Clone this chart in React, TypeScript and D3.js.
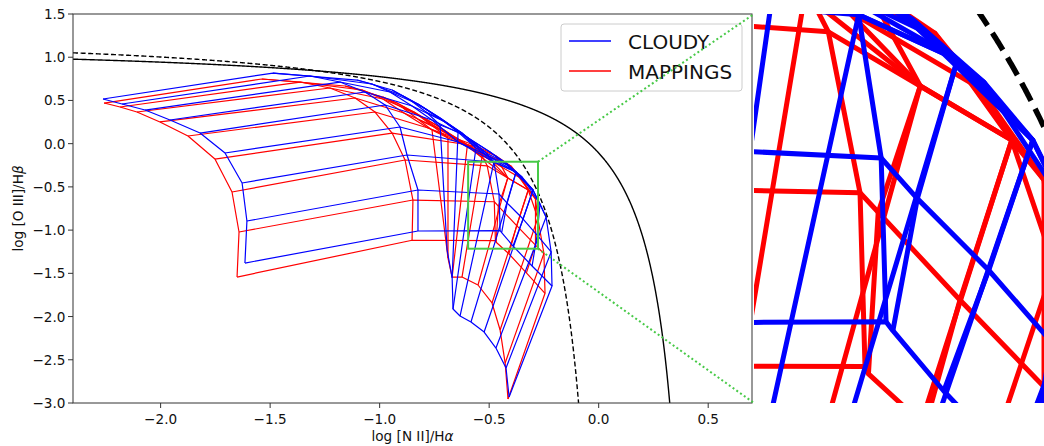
import React from 'react';
import * as d3 from 'd3';

type P = [number, number];

// ---------- data ----------
const xTicks = [-2.0, -1.5, -1.0, -0.5, 0.0, 0.5];
const yTicks = [1.5, 1.0, 0.5, 0.0, -0.5, -1.0, -1.5, -2.0, -2.5, -3.0];
const seriesNames = ['CLOUDY', 'MAPPINGS'];

// rows: ionisation parameter (high -> low), columns: metallicity (low -> high)
const cloudyGrid: P[][] = [
  [[-2.263, 0.517], [-1.487, 0.817], [-1.103, 0.736], [-0.943, 0.621], [-0.861, 0.505], [-0.788, 0.366], [-0.724, 0.216], [-0.692, -1.230]],
  [[-2.176, 0.459], [-1.318, 0.783], [-1.035, 0.690], [-0.893, 0.551], [-0.797, 0.413], [-0.715, 0.274], [-0.642, 0.135], [-0.669, -1.554]],
  [[-2.071, 0.389], [-1.181, 0.713], [-0.953, 0.598], [-0.825, 0.459], [-0.724, 0.297], [-0.624, 0.123], [-0.560, -0.050], [-0.665, -1.913]],
  [[-1.957, 0.274], [-1.067, 0.598], [-0.852, 0.436], [-0.701, 0.251], [-0.596, 0.065], [-0.514, -0.108], [-0.478, -0.212], [-0.633, -1.994]],
  [[-1.820, 0.123], [-0.975, 0.447], [-0.761, 0.274], [-0.610, 0.089], [-0.496, -0.097], [-0.423, -0.224], [-0.377, -0.328], [-0.583, -2.063]],
  [[-1.706, -0.108], [-0.907, 0.193], [-0.642, 0.019], [-0.514, -0.131], [-0.418, -0.247], [-0.350, -0.386], [-0.300, -0.536], [-0.523, -2.179]],
  [[-1.628, -0.455], [-0.875, -0.131], [-0.478, -0.212], [-0.377, -0.328], [-0.300, -0.536], [-0.268, -0.698], [-0.240, -0.848], [-0.469, -2.364]],
  [[-1.606, -0.895], [-0.825, -0.536], [-0.455, -0.582], [-0.418, -0.687], [-0.345, -0.872], [-0.281, -1.057], [-0.217, -1.253], [-0.423, -2.595]],
  [[-1.615, -1.381], [-0.825, -1.010], [-0.450, -1.005], [-0.443, -1.028], [-0.391, -1.184], [-0.304, -1.415], [-0.213, -1.647], [-0.409, -2.931]],
];

const mappingsGrid: P[][] = [
  [[-2.258, 0.470], [-1.537, 0.748], [-1.158, 0.667], [-0.985, 0.540], [-0.893, 0.413], [-0.820, 0.274], [-0.761, 0.158], [-0.701, -1.057]],
  [[-2.185, 0.424], [-1.363, 0.713], [-1.080, 0.621], [-0.921, 0.470], [-0.825, 0.332], [-0.752, 0.193], [-0.688, 0.065], [-0.688, -1.323]],
  [[-2.108, 0.366], [-1.227, 0.644], [-0.985, 0.517], [-0.843, 0.366], [-0.742, 0.216], [-0.660, 0.077], [-0.600, -0.030], [-0.669, -1.543]],
  [[-2.003, 0.251], [-1.112, 0.528], [-0.889, 0.355], [-0.742, 0.193], [-0.642, 0.054], [-0.575, -0.060], [-0.533, -0.160], [-0.624, -1.543]],
  [[-1.875, 0.089], [-1.021, 0.366], [-0.779, 0.181], [-0.642, 0.031], [-0.560, -0.070], [-0.490, -0.200], [-0.415, -0.396], [-0.551, -1.635]],
  [[-1.752, -0.178], [-0.943, 0.123], [-0.555, -0.030], [-0.470, -0.140], [-0.400, -0.260], [-0.355, -0.400], [-0.3215, -0.536], [-0.487, -1.843]],
  [[-1.674, -0.559], [-0.884, -0.189], [-0.509, -0.256], [-0.415, -0.396], [-0.3215, -0.536], [-0.2885, -0.639], [-0.278, -0.860], [-0.450, -2.156]],
  [[-1.642, -1.022], [-0.848, -0.652], [-0.4766, -0.672], [-0.458, -0.722], [-0.3744, -0.949], [-0.2885, -1.173], [-0.250, -1.270], [-0.427, -2.538]],
  [[-1.651, -1.543], [-0.852, -1.117], [-0.4715, -1.121], [-0.468, -1.140], [-0.410, -1.274], [-0.330, -1.495], [-0.245, -1.731], [-0.414, -2.954]],
];

// demarcation curves  y = a / (x - b) + c
const kewley01 = { a: 0.61, b: 0.47, c: 1.19 };
const kauffmann03 = { a: 0.61, b: 0.05, c: 1.3 };

// zoomed region
const zoomX: P = [-0.596, -0.277];
const zoomY: P = [-1.215, -0.209];
const insetXDomain: P = [-0.585, -0.265];
const insetYDomain: P = [-1.215, -0.21];

// ---------- layout ----------
const W = 1044;
const H = 446;
const PL = 73, PR = 752, PT = 14, PB = 403;
const IL = 754, IR = 1067;

const BLUE = '#0000ff';
const RED = '#ff0000';
const GREEN = '#47c947';
const FONT = 'DejaVu Sans, Verdana, sans-serif';

function curve(p: { a: number; b: number; c: number }, x0: number, yMin: number): P[] {
  const xEnd = p.a / (yMin - p.c) + p.b;
  const pts: P[] = d3.range(x0, xEnd, 0.001).map((x) => [x, p.a / (x - p.b) + p.c] as P);
  pts.push([xEnd, yMin]);
  return pts;
}

function gridPaths(grid: P[][], line: d3.Line<P>): string[] {
  const rows = grid.map((r) => line(r) as string);
  const cols = grid[0].map((_, j) => line(grid.map((r) => r[j])) as string);
  return [...rows, ...cols];
}

const fmt = (v: number) => (v < 0 ? '\u2212' : '') + Math.abs(v).toFixed(1);

export default function App() {
  const x = d3.scaleLinear().domain([-2.4, 0.7]).range([PL, PR]);
  const y = d3.scaleLinear().domain([-3, 1.5]).range([PB, PT]);
  const xi = d3.scaleLinear().domain(insetXDomain).range([IL, IR]);
  const yi = d3.scaleLinear().domain(insetYDomain).range([PB, PT]);

  const line = d3.line<P>().x((d) => x(d[0])).y((d) => y(d[1]));
  const lineI = d3.line<P>().x((d) => xi(d[0])).y((d) => yi(d[1]));

  const kew = curve(kewley01, -2.4, -3);
  const kau = curve(kauffmann03, -2.4, -3);

  const rx0 = x(zoomX[0]), rx1 = x(zoomX[1]);
  const ry0 = y(zoomY[1]), ry1 = y(zoomY[0]);

  return (
    <svg width={W} height={H} style={{ position: 'absolute', left: 0, top: 0, display: 'block', background: '#fff' }} fontFamily={FONT}>
      <defs>
        <clipPath id="mainClip">
          <rect x={PL} y={PT} width={PR - PL} height={PB - PT} />
        </clipPath>
        <clipPath id="insetClip">
          <rect x={IL} y={PT} width={W - IL} height={PB - PT} />
        </clipPath>
      </defs>

      {/* main plot */}
      <g clipPath="url(#mainClip)">
        {gridPaths(mappingsGrid, line).map((d, i) => (
          <path key={'m' + i} d={d} fill="none" stroke={RED} strokeWidth={1.2} strokeLinejoin="round" />
        ))}
        {gridPaths(cloudyGrid, line).map((d, i) => (
          <path key={'c' + i} d={d} fill="none" stroke={BLUE} strokeWidth={1.2} strokeLinejoin="round" />
        ))}
        <path d={line(kew) as string} fill="none" stroke="#000" strokeWidth={1.4} />
        <path d={line(kau) as string} fill="none" stroke="#000" strokeWidth={1.4} strokeDasharray="5,2.6" />
      </g>

      {/* axes frame */}
      <rect x={PL} y={PT} width={PR - PL} height={PB - PT} fill="none" stroke="#333" strokeWidth={1} />

      {xTicks.map((t) => (
        <g key={'xt' + t}>
          <line x1={x(t)} x2={x(t)} y1={PB} y2={PB + 5} stroke="#333" strokeWidth={1} />
          <text x={x(t)} y={PB + 20.5} fontSize={13.6} textAnchor="middle" fill="#111">{fmt(t)}</text>
        </g>
      ))}
      {yTicks.map((t) => (
        <g key={'yt' + t}>
          <line x1={PL - 5} x2={PL} y1={y(t)} y2={y(t)} stroke="#333" strokeWidth={1} />
          <text x={PL - 7.5} y={y(t) + 5} fontSize={13.6} textAnchor="end" fill="#111">{fmt(t)}</text>
        </g>
      ))}
      <text x={(PL + PR) / 2} y={441} fontSize={13.6} textAnchor="middle" fill="#111">
        log [N II]/H<tspan fontStyle="italic">α</tspan>
      </text>
      <text transform={`translate(23,${(PT + PB) / 2}) rotate(-90)`} fontSize={13.6} textAnchor="middle" fill="#111">
        log [O III]/H<tspan fontStyle="italic">β</tspan>
      </text>

      {/* legend */}
      <rect x={561} y={24} width={181} height={67} rx={3} fill="#fff" fillOpacity={0.8} stroke="#ccc" strokeWidth={1} />
      <line x1={569} x2={611} y1={41} y2={41} stroke={BLUE} strokeWidth={1.4} />
      <line x1={569} x2={611} y1={71} y2={71} stroke={RED} strokeWidth={1.4} />
      <text x={628} y={48.5} fontSize={20} fill="#111">{seriesNames[0]}</text>
      <text x={628} y={78.5} fontSize={20} fill="#111">{seriesNames[1]}</text>

      {/* inset */}
      <g clipPath="url(#insetClip)">
        {gridPaths(mappingsGrid, lineI).map((d, i) => (
          <path key={'mi' + i} d={d} fill="none" stroke={RED} strokeWidth={5} strokeLinejoin="round" />
        ))}
        {gridPaths(cloudyGrid, lineI).map((d, i) => (
          <path key={'ci' + i} d={d} fill="none" stroke={BLUE} strokeWidth={5} strokeLinejoin="round" />
        ))}
        <path d={lineI(kau) as string} fill="none" stroke="#000" strokeWidth={5.5} strokeDasharray="20,9" />
        <path d={lineI(kew) as string} fill="none" stroke="#000" strokeWidth={5.5} />
      </g>

      {/* zoom indicator */}
      <rect x={rx0} y={ry0} width={rx1 - rx0} height={ry1 - ry0} fill="none" stroke={GREEN} strokeWidth={2} />
      <line x1={rx1} y1={ry0} x2={IL} y2={PT} stroke={GREEN} strokeWidth={2} strokeDasharray="2,2.6" />
      <line x1={rx1} y1={ry1} x2={IL} y2={PB} stroke={GREEN} strokeWidth={2} strokeDasharray="2,2.6" />
    </svg>
  );
}
